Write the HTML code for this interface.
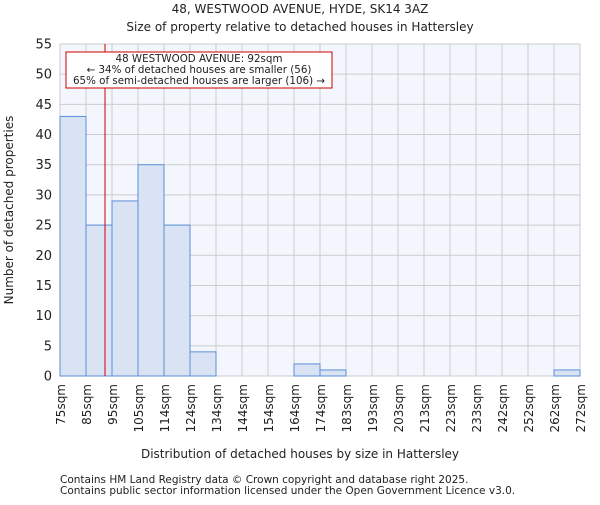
<!DOCTYPE html>
<html><head><meta charset="utf-8"><style>
body{margin:0;background:#fff;}
svg text{font-family:"DejaVu Sans","Liberation Sans",sans-serif;fill:#222;}
</style></head><body>
<svg width="600" height="500" id="chart">
<text x="300" y="13" font-size="12" text-anchor="middle">48, WESTWOOD AVENUE, HYDE, SK14 3AZ</text>
<text x="300" y="31" font-size="12" text-anchor="middle">Size of property relative to detached houses in Hattersley</text>
<rect x="60" y="44" width="520" height="332" fill="#f3f6fd"/>
<g id="grid"></g><g id="bars"></g><g id="axes"></g>
<text x="300" y="458" font-size="12" text-anchor="middle">Distribution of detached houses by size in Hattersley</text>
<text transform="translate(13,210) rotate(-90)" font-size="12" text-anchor="middle">Number of detached properties</text>
<line x1="105" y1="44" x2="105" y2="376" stroke="#cc0000" stroke-width="1"/>
<g>
<rect x="66" y="52" width="266" height="36" fill="#fff" stroke="#cc0000" stroke-width="1"/>
<text x="199" y="62" font-size="10.3" text-anchor="middle">48 WESTWOOD AVENUE: 92sqm</text>
<text x="199" y="73" font-size="10.3" text-anchor="middle">← 34% of detached houses are smaller (56)</text>
<text x="199" y="84" font-size="10.3" text-anchor="middle">65% of semi-detached houses are larger (106) →</text>
</g>
<text x="60" y="483" font-size="10.5">Contains HM Land Registry data © Crown copyright and database right 2025.</text>
<text x="60" y="494" font-size="10.5">Contains public sector information licensed under the Open Government Licence v3.0.</text>
</svg>
<script>
const binLabels=["75sqm","85sqm","95sqm","105sqm","114sqm","124sqm","134sqm","144sqm","154sqm","164sqm","174sqm","183sqm","193sqm","203sqm","213sqm","223sqm","233sqm","242sqm","252sqm","262sqm","272sqm"];
const counts=[43,25,29,35,25,4,0,0,0,2,1,0,0,0,0,0,0,0,0,1];
const yTicks=[0,5,10,15,20,25,30,35,40,45,50,55];
const NS="http://www.w3.org/2000/svg";
const X0=60,X1=580,Y0=376,Y1=44,YMAX=55;
const n=counts.length;
const xs=i=>X0+(X1-X0)*i/n;
const ys=v=>Y0-(Y0-Y1)*v/YMAX;
function mk(t,a,p){const e=document.createElementNS(NS,t);for(const k in a)e.setAttribute(k,a[k]);p.appendChild(e);return e;}
const grid=document.getElementById('grid'),bars=document.getElementById('bars'),axes=document.getElementById('axes');
yTicks.forEach(v=>{
 const l=mk('line',{x1:X0,x2:X1,y1:ys(v),y2:ys(v),stroke:'#cccccc'},grid);
 
 
 const t=mk('text',{x:X0-8,y:ys(v)+4.5,'font-size':13,'text-anchor':'end'},axes);
 t.textContent=v;
 
 
});
binLabels.forEach((s,i)=>{
 const l=mk('line',{x1:xs(i),x2:xs(i),y1:Y1,y2:Y0,stroke:'#cccccc'},grid);
 
 
 const t=mk('text',{transform:`translate(${xs(i)+5},${Y0+8}) rotate(-90)`,'font-size':12,'text-anchor':'end'},axes);
 t.textContent=s;
 
 
});
counts.forEach((c,i)=>{
 if(c<=0)return;
 const r=mk('rect',{x:xs(i),y:ys(c),width:xs(i+1)-xs(i),height:Y0-ys(c),fill:'#dae3f3',stroke:'#5b8fd6','stroke-width':1},bars);
 
 
});
</script>
</body></html>
